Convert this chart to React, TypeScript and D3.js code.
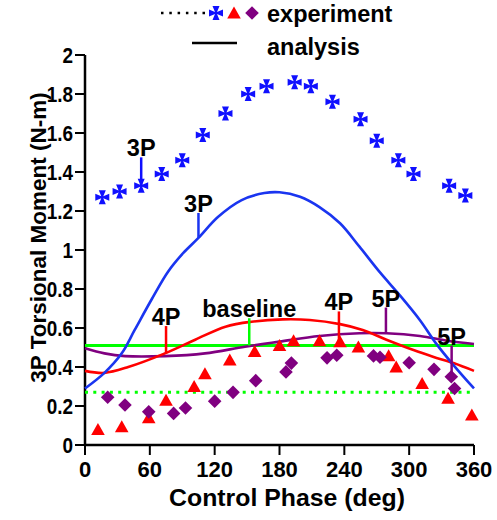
import React, { useEffect, useRef } from 'react';
import * as d3 from 'd3';

// experiment markers (deg, N-m)
const blueX = [16, 32, 52, 71, 90, 109, 130, 151, 168, 194, 209, 229, 255, 270, 290, 304, 337, 352];
const blueY = [1.27, 1.3, 1.33, 1.39, 1.46, 1.59, 1.7, 1.8, 1.84, 1.86, 1.84, 1.76, 1.67, 1.56, 1.46, 1.39, 1.33, 1.28];

const redX = [12, 34, 59, 75, 101, 111, 134, 157, 180, 193, 217, 236, 253, 281, 288, 312, 336, 358];
const redY = [0.08, 0.094, 0.14, 0.23, 0.3, 0.365, 0.436, 0.48, 0.51, 0.535, 0.535, 0.53, 0.502, 0.458, 0.4, 0.315, 0.24, 0.154];

const purpleX = [21, 37, 59, 82, 93, 120, 137, 158, 186, 191, 224, 233, 267, 273, 300, 323, 339, 342];
const purpleY = [0.245, 0.205, 0.17, 0.162, 0.19, 0.225, 0.27, 0.33, 0.375, 0.42, 0.447, 0.46, 0.457, 0.45, 0.422, 0.388, 0.35, 0.29];

// analysis curves
const blueLineX = [0, 18, 34, 46, 62, 77, 91, 105, 123, 145, 166, 180, 199, 217, 236, 254, 273, 291, 310, 325, 341, 360];
const blueLineY = [0.29, 0.37, 0.47, 0.59, 0.75, 0.89, 0.985, 1.062, 1.169, 1.256, 1.292, 1.296, 1.273, 1.22, 1.137, 1.017, 0.885, 0.77, 0.64, 0.52, 0.41, 0.29];

const redLineX = [0, 18, 40, 74, 102, 130, 154, 183, 208, 236, 257, 279, 304, 322, 341, 360];
const redLineY = [0.38, 0.37, 0.4, 0.47, 0.54, 0.607, 0.632, 0.644, 0.641, 0.62, 0.59, 0.54, 0.487, 0.453, 0.42, 0.38];

const purpleLineX = [0, 18, 37, 74, 111, 148, 180, 217, 254, 279, 310, 335, 360];
const purpleLineY = [0.496, 0.47, 0.456, 0.456, 0.47, 0.504, 0.53, 0.559, 0.573, 0.573, 0.559, 0.535, 0.518];

const baselineAnalysis = 0.51;
const baselineExperiment = 0.27;

const xTicks = [0, 60, 120, 180, 240, 300, 360];
const yTicks = [0, 0.2, 0.4, 0.6, 0.8, 1, 1.2, 1.4, 1.6, 1.8, 2];

// labels: text, x (deg), top of leader (N-m), end of leader (N-m), colour
const notes = [
  { text: '3P', x: 52, top: 1.475, end: 1.33, color: '#1010ff' },
  { text: '3P', x: 105, top: 1.19, end: 1.062, color: '#1a35f0' },
  { text: '4P', x: 75, top: 0.61, end: 0.47, color: '#ff0000' },
  { text: 'baseline', x: 152, top: 0.65, end: 0.51, color: '#00ff00' },
  { text: '4P', x: 235, top: 0.685, end: 0.505, color: '#ff0000' },
  { text: '5P', x: 278.5, top: 0.705, end: 0.573, color: '#800080' },
  { text: '5P', x: 339.3, top: 0.51, end: 0.35, color: '#800080' },
];

const FONT = '"Liberation Sans", Arial, Helvetica, sans-serif';

const crossPath =
  'M-1,-1L-3.5,-7L3.5,-7L1,-1L7,-3.5L7,3.5L1,1L3.5,7L-3.5,7L-1,1L-7,3.5L-7,-3.5Z';
const triPath = 'M0,-6.5L6.8,5.5L-6.8,5.5Z';
const diaPath = 'M0,-6.8L6.8,0L0,6.8L-6.8,0Z';

const App = () => {
  const ref = useRef<SVGSVGElement>(null);

  useEffect(() => {
    const svg = d3.select(ref.current);
    svg.selectAll('*').remove();

    const x = d3.scaleLinear().domain([0, 360]).range([85, 474]);
    const y = d3.scaleLinear().domain([0, 2]).range([445, 55]);

    // axes
    svg.append('line').attr('x1', 85).attr('x2', 85).attr('y1', y(0)).attr('y2', y(2))
      .attr('stroke', '#000').attr('stroke-width', 2.5);
    svg.append('line').attr('x1', x(0)).attr('x2', x(360)).attr('y1', 445).attr('y2', 445)
      .attr('stroke', '#000').attr('stroke-width', 2.5);

    svg.selectAll('.xt').data(xTicks).enter().append('line')
      .attr('x1', (d) => x(d)).attr('x2', (d) => x(d)).attr('y1', 445).attr('y2', 455)
      .attr('stroke', '#000').attr('stroke-width', 2);
    svg.selectAll('.xl').data(xTicks).enter().append('text')
      .attr('x', (d) => x(d)).attr('y', 477)
      .attr('text-anchor', 'middle').attr('font-family', FONT).attr('font-weight', 'bold')
      .attr('font-size', 22).text((d) => d);

    svg.selectAll('.yt').data(yTicks).enter().append('line')
      .attr('x1', 75).attr('x2', 85).attr('y1', (d) => y(d)).attr('y2', (d) => y(d))
      .attr('stroke', '#000').attr('stroke-width', 2);
    svg.selectAll('.yl').data(yTicks).enter().append('text')
      .attr('transform', (d) => 'translate(73,' + (y(d) + 7.5) + ') scale(0.88,1)')
      .attr('text-anchor', 'end').attr('font-family', FONT).attr('font-weight', 'bold')
      .attr('font-size', 21.5).text((d) => d3.format('~g')(d));

    svg.append('text').attr('transform', 'translate(287,506) scale(1.08,1)')
      .attr('text-anchor', 'middle').attr('font-family', FONT).attr('font-weight', 'bold')
      .attr('font-size', 23).text('Control Phase (deg)');
    svg.append('text').attr('transform', 'translate(46,237.5) rotate(-90)')
      .attr('text-anchor', 'middle').attr('font-family', FONT).attr('font-weight', 'bold')
      .attr('font-size', 22.5).text('3P Torsional Moment (N-m)');

    // baselines
    svg.append('line').attr('x1', x(0)).attr('x2', x(360))
      .attr('y1', y(baselineExperiment)).attr('y2', y(baselineExperiment))
      .attr('stroke', '#00ff00').attr('stroke-width', 3).attr('stroke-dasharray', '3,5.3');
    svg.append('line').attr('x1', x(0)).attr('x2', x(360))
      .attr('y1', y(baselineAnalysis)).attr('y2', y(baselineAnalysis))
      .attr('stroke', '#00ff00').attr('stroke-width', 3);

    // analysis curves
    const line = d3.line<[number, number]>()
      .x((d) => x(d[0])).y((d) => y(d[1])).curve(d3.curveCatmullRom);
    const curves: [number[], number[], string][] = [
      [purpleLineX, purpleLineY, '#800080'],
      [redLineX, redLineY, '#ff0000'],
      [blueLineX, blueLineY, '#1a35f0'],
    ];
    curves.forEach(([xs, ys, c]) => {
      svg.append('path')
        .attr('d', line(xs.map((v, i) => [v, ys[i]] as [number, number])))
        .attr('fill', 'none').attr('stroke', c).attr('stroke-width', 2.6);
    });

    // experiment markers
    const sets: [number[], number[], string, string][] = [
      [blueX, blueY, crossPath, '#1010ff'],
      [redX, redY, triPath, '#ff0000'],
      [purpleX, purpleY, diaPath, '#800080'],
    ];
    sets.forEach(([xs, ys, p, c]) => {
      svg.append('g').selectAll('path').data(xs).enter().append('path')
        .attr('d', p)
        .attr('transform', (d, i) => 'translate(' + x(d) + ',' + y(ys[i]) + ')')
        .attr('fill', c);
    });

    // leader lines and labels
    notes.forEach((n) => {
      svg.append('line').attr('x1', x(n.x)).attr('x2', x(n.x))
        .attr('y1', y(n.top)).attr('y2', y(n.end))
        .attr('stroke', n.color).attr('stroke-width', 2.5);
      svg.append('text').attr('x', x(n.x)).attr('y', y(n.top) - 1)
        .attr('text-anchor', 'middle').attr('font-family', FONT).attr('font-weight', 'bold')
        .attr('font-size', 23.5).text(n.text);
    });

    // legend
    svg.append('line').attr('x1', 161).attr('x2', 206).attr('y1', 13).attr('y2', 13)
      .attr('stroke', '#000').attr('stroke-width', 2.5).attr('stroke-dasharray', '2.5,5.8');
    svg.append('path').attr('d', crossPath).attr('transform', 'translate(216,13)').attr('fill', '#1010ff');
    svg.append('path').attr('d', triPath).attr('transform', 'translate(234,13)').attr('fill', '#ff0000');
    svg.append('path').attr('d', diaPath).attr('transform', 'translate(252,13)').attr('fill', '#800080');
    svg.append('text').attr('x', 267).attr('y', 21.5).attr('font-family', FONT)
      .attr('font-weight', 'bold').attr('font-size', 23.5).text('experiment');
    svg.append('line').attr('x1', 192).attr('x2', 237).attr('y1', 43).attr('y2', 43)
      .attr('stroke', '#000').attr('stroke-width', 2.5);
    svg.append('text').attr('x', 267).attr('y', 55).attr('font-family', FONT)
      .attr('font-weight', 'bold').attr('font-size', 23.5).text('analysis');
  }, []);

  return (
    <svg
      ref={ref}
      width={497}
      height={520}
      style={{ position: 'absolute', left: 0, top: 0, background: '#fff' }}
    />
  );
};

export default App;
